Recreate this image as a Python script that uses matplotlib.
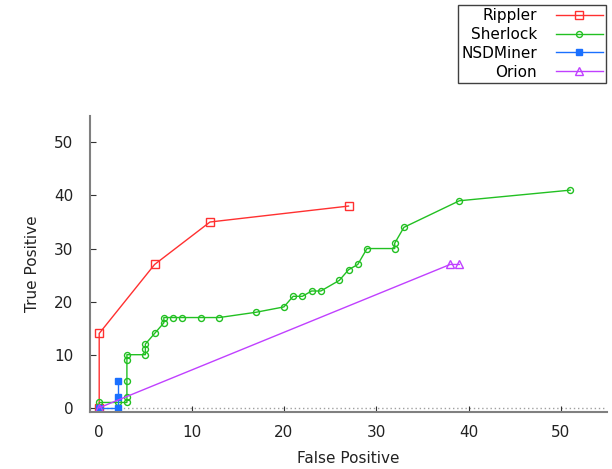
import matplotlib
matplotlib.use("Agg")
import matplotlib.pyplot as plt

# values
rippler_fp = [0, 0, 6, 12, 27]
rippler_tp = [0, 14, 27, 35, 38]

sherlock_fp = [0, 0, 2, 3, 3, 3, 3, 3, 5, 5, 5, 6, 7, 7, 8, 9, 11, 13, 17,
               20, 21, 22, 23, 24, 26, 27, 28, 29, 32, 32, 33, 39, 51]
sherlock_tp = [0, 1, 1, 1, 2, 5, 9, 10, 10, 11, 12, 14, 16, 17, 17, 17, 17, 17, 18,
               19, 21, 21, 22, 22, 24, 26, 27, 30, 30, 31, 34, 39, 41]

nsd_fp = [0, 2, 2, 2]
nsd_tp = [0, 0, 2, 5]

orion_fp = [0, 38, 39]
orion_tp = [0, 27, 27]

ticks = [0, 10, 20, 30, 40, 50]

plt.rcParams['font.family'] = ['DejaVu Sans']
plt.rcParams['font.size'] = 11

fig = plt.figure(figsize=(6.12, 4.69), dpi=100)
ax = fig.add_axes([0.147, 0.1215, 0.845, 0.6315])

ax.axhline(0, color='#a0a0a0', lw=1, ls=(0, (1, 2)), zorder=0)

ax.plot(rippler_fp, rippler_tp, color='#ff3030', lw=1, marker='s', ms=6,
        mfc='none', mew=1, label='Rippler')
ax.plot(sherlock_fp, sherlock_tp, color='#22c022', lw=1, marker='o', ms=4.3,
        mfc='none', mew=1, label='Sherlock')
ax.plot(nsd_fp, nsd_tp, color='#1a70ff', lw=1, marker='s', ms=4,
        label='NSDMiner')
ax.plot(orion_fp, orion_tp, color='#c040ff', lw=1, marker='^', ms=5.5,
        mfc='none', mew=1, label='Orion')

ax.set_xlim(-1, 55)
ax.set_ylim(-0.8, 55)
ax.set_xticks(ticks)
ax.set_yticks(ticks)
ax.tick_params(direction='in', length=4, color='#333333', labelcolor='#222222')
ax.tick_params(axis='y', pad=12)
ax.tick_params(axis='x', pad=9)

for side in ['top', 'right']:
    ax.spines[side].set_visible(False)
for side in ['left', 'bottom']:
    ax.spines[side].set_color('#808080')
    ax.spines[side].set_linewidth(1.5)

ax.set_xlabel('False Positive', labelpad=8, color='#222222')
ax.set_ylabel('True Positive', labelpad=10, color='#222222')

fig.legend(loc='upper right', bbox_to_anchor=(606 / 612, 1 - 5 / 469),
           markerfirst=False, fancybox=False, edgecolor='#404040',
           framealpha=1, handlelength=3.1, handletextpad=1.2,
           labelspacing=0.25, borderpad=0.2, borderaxespad=0)

fig.savefig('out.png', dpi=100)
